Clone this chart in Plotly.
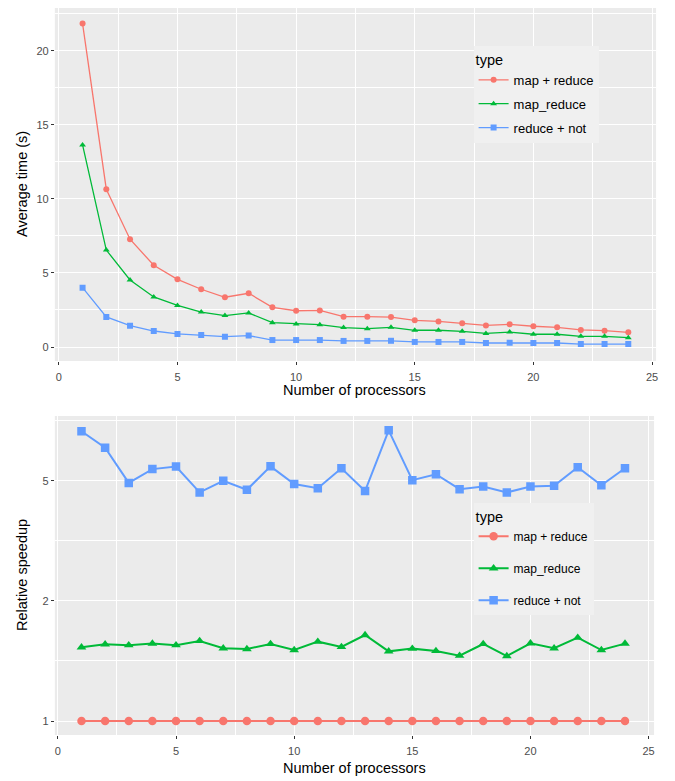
import math
import plotly.graph_objects as go

processors = list(range(1, 25))

# Average time (s)
time_map_plus_reduce = [21.85, 10.66, 7.28, 5.52, 4.57, 3.90, 3.36, 3.63, 2.68, 2.45, 2.47, 2.05,
                        2.05, 2.02, 1.80, 1.73, 1.60, 1.46, 1.53, 1.40, 1.33, 1.15, 1.10, 0.99]
time_map_reduce = [13.65, 6.55, 4.53, 3.38, 2.81, 2.36, 2.12, 2.30, 1.64, 1.55, 1.51, 1.31,
                   1.24, 1.33, 1.13, 1.13, 1.06, 0.92, 1.01, 0.86, 0.86, 0.72, 0.72, 0.63]
time_reduce_not = [4.01, 2.03, 1.44, 1.08, 0.88, 0.81, 0.70, 0.77, 0.47, 0.47, 0.47, 0.41,
                   0.41, 0.42, 0.34, 0.34, 0.34, 0.27, 0.29, 0.27, 0.27, 0.20, 0.20, 0.20]

# Relative speedup
speedup_map_plus_reduce = [1.0] * 24
speedup_map_reduce = [1.634, 1.667, 1.657, 1.675, 1.657, 1.705, 1.624, 1.616, 1.671, 1.605, 1.697, 1.638,
                      1.774, 1.591, 1.620, 1.595, 1.546, 1.671, 1.542, 1.679, 1.624, 1.743, 1.605, 1.675]
speedup_reduce_not = [6.90, 6.18, 4.89, 5.36, 5.45, 4.59, 4.96, 4.67, 5.46, 4.85, 4.72, 5.39,
                      4.63, 6.94, 4.98, 5.18, 4.69, 4.77, 4.59, 4.77, 4.80, 5.43, 4.81, 5.39]

series_names = ["map + reduce", "map_reduce", "reduce + not"]
colors = ["#F8766D", "#00BA38", "#619CFF"]
symbols = ["circle", "triangle-up", "square"]

x_ticks = [0, 5, 10, 15, 20, 25]
y_top_ticks = [0, 5, 10, 15, 20]
y_bot_tickvals = [1.0, math.exp(0.8), math.exp(1.6)]
y_bot_ticktext = ["1", "2", "5"]
y_bot_minor = [math.exp(0.4), math.exp(1.2), math.exp(2.0)]

# page has an 8px body margin; size the figure to fill the window
OFF = 8
W, H = 675 - OFF, 781 - OFF


def px(x):
    return min(1.0, max(0.0, (x - OFF) / W))


def py(y):
    return min(1.0, max(0.0, 1 - (y - OFF) / H))


fig = go.Figure()

top_data = [time_map_plus_reduce, time_map_reduce, time_reduce_not]
bot_data = [speedup_map_plus_reduce, speedup_map_reduce, speedup_reduce_not]

for i, name in enumerate(series_names):
    fig.add_trace(go.Scatter(
        x=processors, y=top_data[i], name=name, mode="lines+markers",
        line=dict(color=colors[i], width=1.3),
        marker=dict(symbol=symbols[i], size=6, color=colors[i]),
        xaxis="x", yaxis="y", legend="legend", legendgroup="t" + str(i)))
for i, name in enumerate(series_names):
    fig.add_trace(go.Scatter(
        x=processors, y=bot_data[i], name=name, mode="lines+markers",
        line=dict(color=colors[i], width=2),
        marker=dict(symbol=symbols[i], size=8.5, color=colors[i]),
        xaxis="x2", yaxis="y2", legend="legend2", legendgroup="b" + str(i)))

tickfont = dict(family="Liberation Sans, Arial, sans-serif", size=11, color="#4D4D4D")
grid = "#FFFFFF"


def xaxis(domain, rng, anchor):
    return dict(domain=domain, range=rng, anchor=anchor, tickvals=x_ticks,
                ticks="outside", ticklen=3, tickcolor="#333333", tickwidth=1,
                ticklabelstandoff=3,
                showgrid=True, gridcolor=grid, gridwidth=1.1, zeroline=False,
                minor=dict(dtick=2.5, tick0=0, showgrid=True, gridcolor=grid, gridwidth=0.5, ticks=""),
                tickfont=tickfont, showline=False)


def title_ann(text, x, y, angle=0):
    return dict(text=text, x=px(x), y=py(y), xref="paper", yref="paper",
                xanchor="center", yanchor="middle", textangle=angle, showarrow=False,
                font=dict(size=14.5, color="black"))


legend_title = dict(text="type", font=dict(size=14.5, color="black"))

fig.update_layout(
    width=W, height=H,
    margin=dict(l=0, r=0, t=0, b=0),
    paper_bgcolor="white",
    plot_bgcolor="#EBEBEB",
    font=dict(family="Liberation Sans, Arial, sans-serif"),
    xaxis=xaxis([px(55), px(658)], [-0.168, 25.17], "y"),
    yaxis=dict(domain=[py(361), py(8)], range=[-0.946, 22.90], anchor="x",
               tickvals=y_top_ticks, ticks="outside", ticklen=3, tickcolor="#333333",
               showgrid=True, gridcolor=grid, gridwidth=1.1, zeroline=False,
               minor=dict(dtick=2.5, tick0=0, showgrid=True, gridcolor=grid, gridwidth=0.5, ticks=""),
               tickfont=tickfont),
    xaxis2=xaxis([px(55), px(656)], [-0.127, 25.23], "y2"),
    yaxis2=dict(domain=[py(735), py(416)], type="log",
                range=[-0.0933 / math.log(10), 2.033 / math.log(10)], anchor="x2",
                tickvals=y_bot_tickvals, ticktext=y_bot_ticktext,
                ticks="outside", ticklen=3, tickcolor="#333333",
                showgrid=True, gridcolor=grid, gridwidth=1.1, zeroline=False,
                minor=dict(tickvals=y_bot_minor, showgrid=True, gridcolor=grid, gridwidth=0.5, ticks=""),
                tickfont=tickfont),
    legend=dict(x=px(475), y=py(46), xanchor="left", yanchor="top", bgcolor="#F0F0F0",
                borderwidth=0, title=legend_title, font=dict(size=13, color="black"),
                itemwidth=30, tracegroupgap=4),
    legend2=dict(x=px(475), y=py(503), xanchor="left", yanchor="top", bgcolor="#F0F0F0",
                 borderwidth=0, title=legend_title, font=dict(size=12, color="black"),
                 itemwidth=30, tracegroupgap=13),
    annotations=[
        title_ann("Average time (s)", 22, 184, -90),
        title_ann("Number of processors", 356, 390),
        title_ann("Relative speedup", 22, 575, -90),
        title_ann("Number of processors", 356, 768),
    ],
)

fig.write_html("out.html")
